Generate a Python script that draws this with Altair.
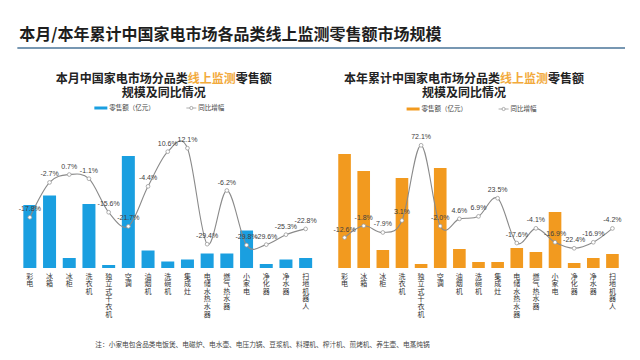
import altair as alt
import pandas as pd

categories = ["彩电", "冰箱", "冰柜", "洗衣机", "独立式干衣机", "空调", "油烟机", "洗碗机",
              "集成灶", "电储水热水器", "燃气热水器", "小家电", "净化器", "净水器", "扫地机器人"]
month_sales = [63, 72.5, 10, 64, 3, 112, 17.5, 6.5, 8.5, 14.5, 14.5, 37.5, 4, 8.5, 10]
month_yoy = [-17.8, -2.7, 0.7, -1.1, -15.6, -21.7, -4.4, 10.6, 12.1, -29.4, -6.2, -29.8, -29.6, -25.3, -22.8]
year_sales = [114, 97, 18, 90, 4, 100, 19, 6, 6, 20, 16, 56, 5, 10, 14]
year_yoy = [-12.6, -1.8, -7.9, 3.1, 72.1, -2.0, 4.6, 6.9, 23.5, -17.6, -4.1, -16.9, -22.4, -16.9, -4.2]

page_title = "本月/本年累计中国家电市场各品类线上监测零售额市场规模"
footnote = "注：小家电包含品类电饭煲、电磁炉、电水壶、电压力锅、豆浆机、料理机、榨汁机、煎烤机、养生壶、电蒸炖锅"
legend_bar = "零售额（亿元）"
legend_line = "同比增幅"
hl = "线上监测"

CJK = "Noto Sans CJK SC"
BLUE = "#1a9fe0"
ORANGE = "#f29a1f"
HL = "#f2aa3c"
H = 130


def one(text_df_value="x"):
    return alt.Chart(pd.DataFrame({"k": [text_df_value]}))


def txt(text, x, y, size, align="left", baseline="alphabetic", color="#222", weight="normal"):
    return one(text).mark_text(text=text, align=align, baseline=baseline, fontSize=size,
                               font=CJK, color=color, fontWeight=weight).encode(
        x=alt.value(x), y=alt.value(y))


def rule(x1, x2, y, color, width):
    return one().mark_rule(color=color, strokeWidth=width).encode(
        x=alt.value(x1), x2=alt.value(x2), y=alt.value(y))


def panel(sales, yoy, color, width, sub_a, sub_b, center, lx, ly, ydom):
    df = pd.DataFrame({"cat": categories, "sales": sales, "yoy": yoy,
                       "label": [f"{v:.1f}%" for v in yoy]})
    xenc = alt.X("cat:N", sort=categories,
                 scale=alt.Scale(paddingInner=0.34, paddingOuter=0.17),
                 axis=alt.Axis(title=None, domain=False, ticks=False, labelAngle=0,
                               labelExpr="split(datum.label, '')", labelBaseline="top",
                               labelLineHeight=7.6, labelFontSize=7, labelFont=CJK,
                               labelColor="#333", labelPadding=4, labelOverlap=False))
    base = alt.Chart(df).encode(x=xenc)
    bars = base.mark_bar(color=color).encode(
        y=alt.Y("sales:Q", scale=alt.Scale(domain=[0, 130], nice=False), axis=None))
    ly_enc = alt.Y("yoy:Q", scale=alt.Scale(domain=ydom, nice=False, zero=False), axis=None)
    line = base.mark_line(color="#8a8a8a", strokeWidth=1.1, interpolate="cardinal").encode(y=ly_enc)
    pts = base.mark_point(fill="white", fillOpacity=1, stroke="#9a9a9a", strokeWidth=0.8,
                          size=14, opacity=1).encode(y=ly_enc)
    labs = base.mark_text(dy=-8, fontSize=7, color="#404040", font="Liberation Sans").encode(
        y=ly_enc, text="label:N")
    lines_layer = alt.layer(line, pts, labs)

    n1 = len(sub_a) + len(hl) + len(sub_b)
    fs = 12
    start = center - n1 * fs / 2
    deco = [
        txt(sub_a, start, -55, fs, weight="bold"),
        txt(hl, start + len(sub_a) * fs, -55, fs, color=HL, weight="bold"),
        txt(sub_b, start + (len(sub_a) + len(hl)) * fs, -55, fs, weight="bold"),
        txt("规模及同比情况", center, -41, fs, align="center", weight="bold"),
        rule(lx, lx + 13, ly, color, 3),
        txt(legend_bar, lx + 15, ly, 6.5, baseline="middle", color="#444"),
        rule(lx + 92, lx + 102, ly, "#9a9a9a", 0.8),
        one().mark_point(fill="white", fillOpacity=1, stroke="#9a9a9a", strokeWidth=0.8,
                         size=10, opacity=1).encode(x=alt.value(lx + 97), y=alt.value(ly)),
        txt(legend_line, lx + 104, ly, 6.5, baseline="middle", color="#444"),
    ]
    return alt.layer(bars, lines_layer, *deco).resolve_scale(y="independent").properties(
        width=width, height=H)


left = panel(month_sales, month_yoy, BLUE, 295.5, "本月中国家电市场分品类", "零售额",
             143.85, 74.35, -30, [-39.7, 16.5])
left = alt.layer(
    left,
    txt(page_title, -0.65, -98, 16, weight="bold", color="#1e1e1e"),
    rule(-2.65, 605, -90, "#4a7499", 1.5),
    txt(footnote, 75.35, 207, 6.7, baseline="middle", color="#444"),
)
right = panel(year_sales, year_yoy, ORANGE, 287, "本年累计中国家电市场分品类", "零售额",
              129.1, 71.6, -29, [-40.5, 78.8])

chart = alt.hconcat(left, right, spacing=19, bounds="flush").properties(
    padding={"left": 8, "top": 19, "right": 5, "bottom": 5}
).configure_view(strokeWidth=0)

chart.save("out.html", embed_options={"renderer": "svg", "actions": False})
